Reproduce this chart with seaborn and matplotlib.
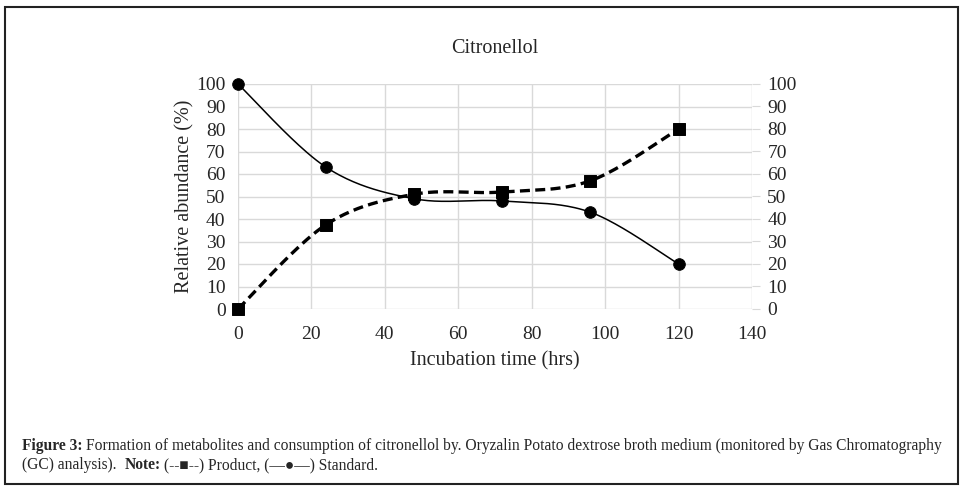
import numpy as np
import pandas as pd
import matplotlib
matplotlib.use('Agg')
import matplotlib.pyplot as plt
import seaborn as sns
from matplotlib.patches import Rectangle

# data
hours = [0, 24, 48, 72, 96, 120]
product = [0, 37.5, 51, 52, 57, 80]
standard = [100, 63, 49, 48, 43, 20]
yticks = list(range(0, 101, 10))
xticks = list(range(0, 141, 20))


def smooth(xs, ys, n=40):
    # excel style smoothed line (bezier through the points)
    p = np.column_stack([xs, ys]).astype(float)
    p = np.vstack([p[0], p, p[-1]])
    out = []
    for i in range(1, len(p) - 2):
        p0, p1, p2, p3 = p[i - 1], p[i], p[i + 1], p[i + 2]
        c1 = p1 + (p2 - p0) / 6
        c2 = p2 - (p3 - p1) / 6
        t = np.linspace(0, 1, n)[:, None]
        seg = (1 - t) ** 3 * p1 + 3 * (1 - t) ** 2 * t * c1 + 3 * (1 - t) * t ** 2 * c2 + t ** 3 * p2
        out.append(seg if i == 1 else seg[1:])
    out = np.vstack(out)
    return out[:, 0], out[:, 1]


sns.set_style('white')
plt.rcParams['font.family'] = ['Liberation Serif', 'DejaVu Serif']

fig = plt.figure(figsize=(9.71, 4.87), dpi=100)
ax = fig.add_axes([238 / 971, 1 - 309 / 487, 514 / 971, 225 / 487])

grid_c = '#d9d9d9'
px, py = smooth(hours, product)
sx, sy = smooth(hours, standard)
sns.lineplot(x=sx, y=sy, ax=ax, color='black', lw=1.1, sort=False, estimator=None)
sns.lineplot(x=px, y=py, ax=ax, color='black', lw=2.4, sort=False, estimator=None)
ax.lines[-1].set_dashes([3, 1.6])
sns.scatterplot(x=hours, y=standard, ax=ax, marker='o', s=70, color='black', edgecolor='black',
                zorder=5, clip_on=False)
sns.scatterplot(x=hours, y=product, ax=ax, marker='s', s=75, color='black', edgecolor='black',
                zorder=5, clip_on=False)

ax.set_xlim(0, 140)
ax.set_ylim(0, 100)
ax.set_xticks(xticks)
ax.set_yticks(yticks)
ax.grid(True, color=grid_c, lw=1)
ax.set_axisbelow(True)
for s in ax.spines.values():
    s.set_visible(False)
ax.tick_params(axis='both', length=0, labelsize=14)
ax.tick_params(axis='x', pad=12)
ax.tick_params(axis='y', pad=9)
ax.set_xlabel('Incubation time (hrs)', fontsize=14.5, labelpad=6)
ax.set_ylabel('Relative abundance (%)', fontsize=14.5, labelpad=1)
ax.set_title('Citronellol', fontsize=14.5, pad=22)

ax2 = ax.twinx()
ax2.set_ylim(0, 100)
ax2.set_yticks(yticks)
for s in ax2.spines.values():
    s.set_visible(False)
ax2.tick_params(axis='y', length=6, color=grid_c, labelsize=14, pad=5)

# outer frame
fig.add_artist(Rectangle((5 / 971, 1 - 484 / 487), 953 / 971, 477 / 487, transform=fig.transFigure,
                         fill=False, edgecolor='#222222', lw=1.5))

# caption
cap_size = 11.2
renderer = fig.canvas.get_renderer()
t1 = fig.text(22 / 971, 1 - 446 / 487, 'Figure 3:', fontsize=cap_size, fontweight='bold', va='center')
bb = t1.get_window_extent(renderer)
fig.text((bb.x1 + 3) / 971, 1 - 446 / 487,
         'Formation of metabolites and consumption of citronellol by. Oryzalin Potato dextrose broth medium '
         '(monitored by Gas Chromatography', fontsize=cap_size, va='center')
t3 = fig.text(22 / 971, 1 - 465 / 487, '(GC) analysis).  ', fontsize=cap_size, va='center')
bb = t3.get_window_extent(renderer)
t4 = fig.text(bb.x1 / 971, 1 - 465 / 487, 'Note:', fontsize=cap_size, fontweight='bold', va='center')
bb = t4.get_window_extent(renderer)
fig.text((bb.x1 + 4) / 971, 1 - 465 / 487, '(--■--) Product, (—●—) Standard.', fontsize=cap_size, va='center')

plt.savefig('out.png', dpi=100)
